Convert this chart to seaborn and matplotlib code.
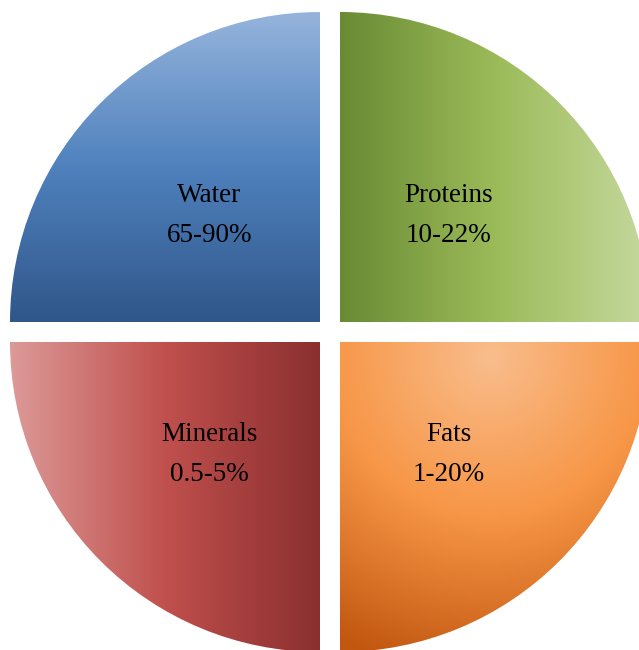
import numpy as np
import matplotlib
matplotlib.use("Agg")
import matplotlib.pyplot as plt
import seaborn as sns
from matplotlib.colors import LinearSegmentedColormap

sns.set_theme(style="white")
plt.rcParams['font.family'] = ['Liberation Serif', 'DejaVu Serif']

# Data
categories = ["Water", "Minerals", "Fats", "Proteins"]
ranges = ["65-90%", "0.5-5%", "1-20%", "10-22%"]
shares = [1, 1, 1, 1]

W, H = 639, 650
fig = plt.figure(figsize=(W / 100, H / 100), dpi=100)
ax = fig.add_axes([0, 0, 1, 1])

cx, cy, R = 330, H - 332, 310
off = 10 * np.sqrt(2)  # explode is in data units here

wedges, texts = ax.pie(shares, startangle=90, counterclock=True, radius=R,
                       center=(cx, cy), explode=[off] * 4,
                       labels=[f"{c}\n{r}" for c, r in zip(categories, ranges)],
                       labeldistance=0.5,
                       textprops=dict(fontsize=19.5, color="black", ha="center",
                                      va="center", linespacing=1.75),
                       wedgeprops=dict(linewidth=0))

ax.set_xlim(0, W)
ax.set_ylim(0, H)
ax.set_aspect('equal')
ax.axis('off')

n = 256
grad_h = np.linspace(0, 1, n)[None, :]  # left -> right
grad_v = np.linspace(0, 1, n)[:, None]  # top -> bottom (origin upper)

water_cmap = LinearSegmentedColormap.from_list("w", ["#95b4dc", "#4f81bd", "#30568a"])
prot_cmap = LinearSegmentedColormap.from_list("p", ["#6a8a34", "#9bbb59", "#c6d99e"])
min_cmap = LinearSegmentedColormap.from_list("m", ["#dc9a98", "#c0504d", "#8a2f2f"])
fat_cmap = LinearSegmentedColormap.from_list("f", ["#f9bd8c", "#f79646", "#c25710"])

for w, lab in zip(wedges, categories):
    w.set_facecolor("none")
    x0, y0 = w.center
    if lab == "Water":
        img, cmap, ext = np.repeat(grad_v, n, axis=1), water_cmap, (x0 - R, x0, y0, y0 + R)
    elif lab == "Proteins":
        img, cmap, ext = np.repeat(grad_h, n, axis=0), prot_cmap, (x0, x0 + R, y0, y0 + R)
    elif lab == "Minerals":
        img, cmap, ext = np.repeat(grad_h, n, axis=0), min_cmap, (x0 - R, x0, y0 - R, y0)
    else:
        xs = np.linspace(x0, x0 + R, n)
        ys = np.linspace(y0, y0 - R, n)
        X, Y = np.meshgrid(xs, ys)
        fx, fy = x0 + 150, y0 - 15
        d = np.sqrt((X - fx) ** 2 + (Y - fy) ** 2) / 320
        img, cmap, ext = np.clip(d, 0, 1), fat_cmap, (x0, x0 + R, y0 - R, y0)
    im = ax.imshow(img, cmap=cmap, extent=ext, origin="upper", aspect="auto",
                   interpolation="bilinear", zorder=0.5)
    im.set_clip_path(w)

for t in texts:
    t.set_zorder(3)
    x, y = t.get_position()
    t.set_position((x - 1, y - 3))

ax.set_xlim(0, W)
ax.set_ylim(0, H)
fig.savefig("out.png", dpi=100)
